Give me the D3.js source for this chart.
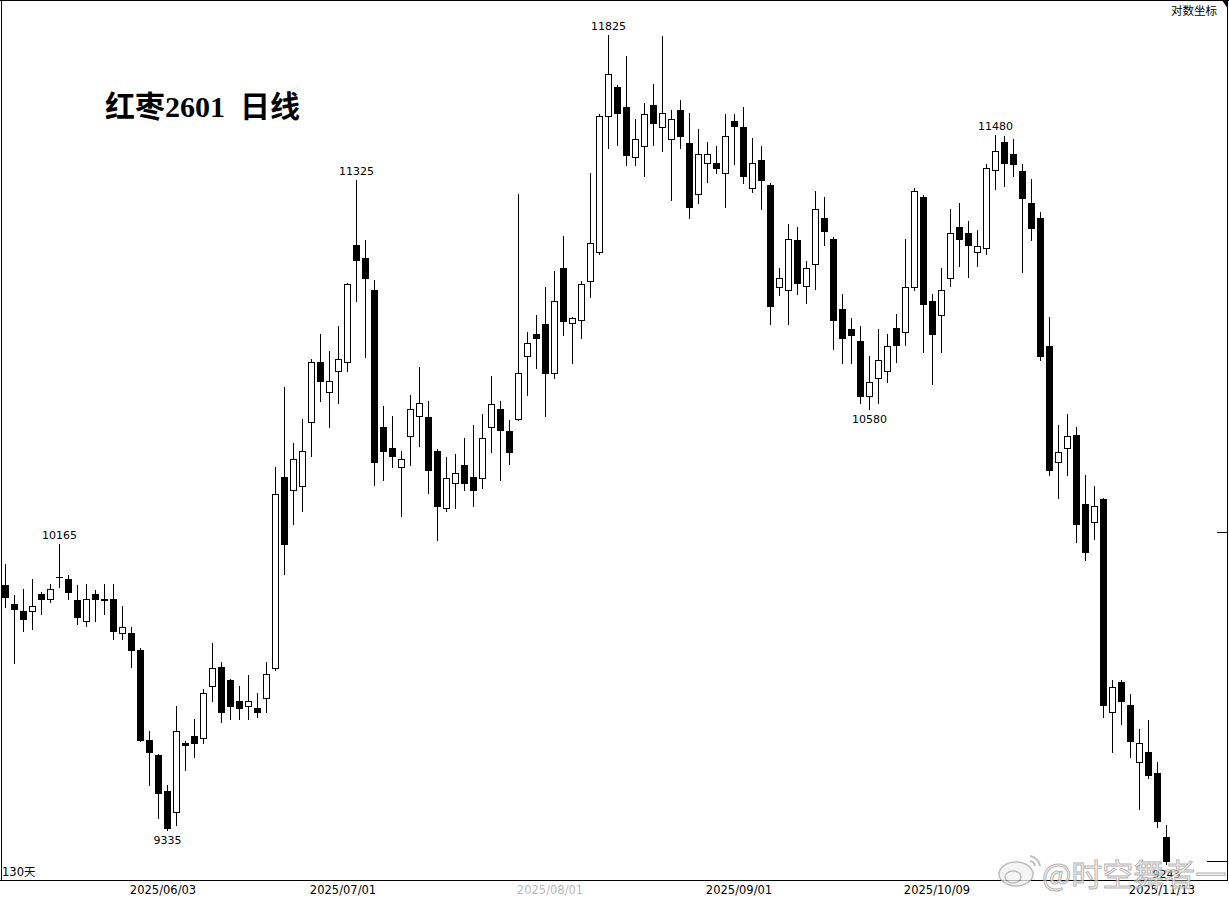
<!DOCTYPE html>
<html><head><meta charset="utf-8">
<script src="https://cdn.jsdelivr.net/npm/d3@7"></script>
<style>html,body{margin:0;padding:0;background:#fff;overflow:hidden}</style>
</head><body>
<svg id="chart" width="1229" height="898"></svg>
<script>
// ---- data ----
const dates = [
"2025/05/07","2025/05/08","2025/05/09","2025/05/12","2025/05/13","2025/05/14","2025/05/15","2025/05/16","2025/05/19","2025/05/20",
"2025/05/21","2025/05/22","2025/05/23","2025/05/26","2025/05/27","2025/05/28","2025/05/29","2025/05/30",
"2025/06/03","2025/06/04","2025/06/05","2025/06/06","2025/06/09","2025/06/10","2025/06/11","2025/06/12","2025/06/13",
"2025/06/16","2025/06/17","2025/06/18","2025/06/19","2025/06/20","2025/06/23","2025/06/24","2025/06/25","2025/06/26","2025/06/27","2025/06/30",
"2025/07/01","2025/07/02","2025/07/03","2025/07/04","2025/07/07","2025/07/08","2025/07/09","2025/07/10","2025/07/11",
"2025/07/14","2025/07/15","2025/07/16","2025/07/17","2025/07/18","2025/07/21","2025/07/22","2025/07/23","2025/07/24","2025/07/25",
"2025/07/28","2025/07/29","2025/07/30","2025/07/31",
"2025/08/01","2025/08/04","2025/08/05","2025/08/06","2025/08/07","2025/08/08","2025/08/11","2025/08/12","2025/08/13","2025/08/14","2025/08/15",
"2025/08/18","2025/08/19","2025/08/20","2025/08/21","2025/08/22","2025/08/25","2025/08/26","2025/08/27","2025/08/28","2025/08/29",
"2025/09/01","2025/09/02","2025/09/03","2025/09/04","2025/09/05","2025/09/08","2025/09/09","2025/09/10","2025/09/11","2025/09/12",
"2025/09/15","2025/09/16","2025/09/17","2025/09/18","2025/09/19","2025/09/22","2025/09/23","2025/09/24","2025/09/25","2025/09/26",
"2025/09/29","2025/09/30",
"2025/10/09","2025/10/10","2025/10/13","2025/10/14","2025/10/15","2025/10/16","2025/10/17","2025/10/20","2025/10/21","2025/10/22",
"2025/10/23","2025/10/24","2025/10/27","2025/10/28","2025/10/29","2025/10/30","2025/10/31",
"2025/11/03","2025/11/04","2025/11/05","2025/11/06","2025/11/07","2025/11/10","2025/11/11","2025/11/12","2025/11/13"
];
const opens = [
10040,9985,9965,9965,10015,10000,10065,10060,9995,9935,10015,9995,10000,9900,9900,9850,9590,9545,9445,9385,
9580,9600,9595,9745,9800,9760,9700,9685,9680,9710,9795,10370,10330,10340,10540,10730,10635,10700,10730,11110,
11065,10960,10525,10460,10400,10495,10560,10555,10450,10275,10350,10405,10370,10365,10525,10580,10510,10550,10750,10820,
10850,10695,11035,10855,10865,10990,11085,11545,11645,11575,11405,11440,11580,11505,11465,11565,11450,11280,11385,11385,
11350,11525,11505,11300,11395,11310,10970,10960,11125,10975,11045,11200,11130,10900,10835,10795,10620,10680,10700,10840,
10825,10970,11270,10925,10880,11000,11170,11150,11085,11100,11360,11455,11415,11355,11250,11200,10780,10415,10460,10500,
10285,10230,10300,9670,9755,9690,9525,9555,9495,9315
];
const highs = [
10105,10010,10030,10060,10020,10045,10165,10070,10040,10045,10025,10045,10045,9980,9915,9855,9615,9550,9460,9685,
9585,9650,9735,9870,9815,9765,9745,9775,9725,9815,10400,10650,10475,10550,10740,10820,10765,10845,10985,11325,
11125,10995,10590,10560,10450,10625,10715,10605,10455,10430,10440,10490,10530,10565,10685,10605,10545,11280,10825,10880,
10970,11025,11140,10875,10990,11350,11550,11825,11650,11750,11535,11590,11655,11820,11565,11600,11555,11500,11455,11440,
11550,11550,11575,11470,11440,11315,11035,11180,11170,11055,11290,11270,11135,10950,10870,10845,10750,10835,10820,10885,
11130,11300,11275,10950,11035,11230,11250,11190,11160,11380,11480,11475,11465,11380,11330,11220,10875,10530,10565,10525,
10375,10340,10305,9760,9760,9720,9620,9645,9525,9350
];
const lows = [
9975,9810,9905,9910,9955,9990,10035,10000,9925,9920,9935,9955,9880,9880,9800,9585,9460,9370,9335,9350,
9505,9540,9580,9700,9640,9650,9650,9650,9655,9670,9790,10075,10225,10265,10435,10605,10525,10600,10700,10925,
10745,10345,10360,10400,10250,10405,10465,10320,10175,10265,10275,10330,10280,10335,10445,10360,10410,10545,10625,10710,
10560,10680,10815,10725,10805,10940,11080,11435,11445,11375,11375,11340,11445,11425,11260,11435,11200,11250,11320,11350,
11235,11380,11315,11285,11230,10850,10945,10850,10950,10920,10965,11110,10770,10725,10725,10600,10580,10600,10665,10730,
10785,10960,10760,10660,10760,10975,11040,11005,11040,11080,11295,11305,11340,11020,11125,10735,10375,10305,10375,10170,
10115,10180,9655,9555,9635,9540,9395,9480,9345,9243
];
const closes = [
10005,9970,9940,9980,10000,10030,10065,10020,9945,10000,10000,10000,9905,9915,9850,9590,9555,9440,9340,9615,
9575,9580,9725,9795,9670,9685,9680,9700,9670,9780,10315,10165,10425,10450,10730,10670,10670,10740,10980,11060,
11000,10415,10450,10435,10425,10580,10600,10390,10280,10365,10380,10350,10330,10490,10595,10515,10445,10695,10790,10805,
10695,10925,10860,10870,10980,11115,11545,11690,11555,11410,11465,11550,11520,11555,11535,11475,11235,11415,11415,11365,
11475,11510,11340,11385,11325,10910,11000,11130,10985,11035,11230,11155,10865,10805,10815,10620,10665,10735,10780,10785,
10970,11290,10915,10820,10960,11150,11130,11110,11105,11365,11425,11385,11380,11265,11165,10750,10390,10445,10495,10225,
10140,10280,9690,9740,9700,9585,9580,9490,9360,9250
];
const tickDates = ["2025/06/03","2025/07/01","2025/08/01","2025/09/01","2025/10/09","2025/11/13"];
const markDates = ["2025/05/15","2025/06/03","2025/07/02","2025/08/11","2025/09/19","2025/10/17","2025/11/13"];
const markSides = ["high","low","high","high","low","high","low"];
const titleText = "红枣2601  日线";
const scaleLabel = "对数坐标";
const periodLabel = "130天";
const watermark = "@时空舞者一";

// ---- chart ----
const svg = d3.select("#chart");
const W = 1229, H = 898;
svg.append("rect").attr("width", W).attr("height", H).attr("fill", "#fff");

const data = dates.map((d, i) => ({date: d, o: opens[i], h: highs[i], l: lows[i], c: closes[i]}));
const x = d3.scalePoint().domain(dates).range([5, 1166]);
const y = d3.scaleLog().domain([9335, 11825]).range([830.2, 35]);

const g = svg.append("g");
data.forEach(d => {
  const cx = Math.round(x(d.date));
  const yh = Math.round(y(d.h)), yl = Math.round(y(d.l));
  const yo = Math.round(y(d.o)), yc = Math.round(y(d.c));
  const top = Math.min(yo, yc), bot = Math.max(yo, yc);
  if (d.c > d.o) {
    if (yh < top) g.append("line").attr("x1", cx + 0.5).attr("x2", cx + 0.5).attr("y1", yh).attr("y2", top).attr("stroke", "#000");
    if (yl > bot) g.append("line").attr("x1", cx + 0.5).attr("x2", cx + 0.5).attr("y1", bot).attr("y2", yl + 1).attr("stroke", "#000");
    g.append("rect").attr("x", cx - 2.5).attr("y", top + 0.5).attr("width", 6).attr("height", Math.max(1, bot - top))
      .attr("fill", "#fff").attr("stroke", "#000").attr("stroke-width", 1);
  } else if (d.c < d.o) {
    g.append("line").attr("x1", cx + 0.5).attr("x2", cx + 0.5).attr("y1", yh).attr("y2", yl + 1).attr("stroke", "#000");
    g.append("rect").attr("x", cx - 3).attr("y", top).attr("width", 7).attr("height", Math.max(2, bot - top + 1))
      .attr("fill", "#000").attr("shape-rendering", "crispEdges");
  } else {
    g.append("line").attr("x1", cx + 0.5).attr("x2", cx + 0.5).attr("y1", yh).attr("y2", yl + 1).attr("stroke", "#000");
    g.append("line").attr("x1", cx - 3).attr("x2", cx + 4).attr("y1", top + 0.5).attr("y2", top + 0.5).attr("stroke", "#000");
  }
});

// high/low annotations
markDates.forEach((md, k) => {
  const d = data[dates.indexOf(md)];
  const side = markSides[k];
  const val = side === "high" ? d.h : d.l;
  svg.append("text")
    .attr("x", x(md) + 0.5)
    .attr("y", side === "high" ? y(val) - 5 : y(val) + 14)
    .attr("text-anchor", "middle")
    .attr("font-family", "'DejaVu Sans', Verdana, sans-serif")
    .attr("font-size", 11)
    .attr("fill", "#000")
    .text(val);
});

// frame
const frame = svg.append("g").attr("stroke", "#000").attr("stroke-width", 1).attr("shape-rendering", "crispEdges");
frame.append("line").attr("x1", 0).attr("x2", W).attr("y1", 0.5).attr("y2", 0.5);
frame.append("line").attr("x1", 1.5).attr("x2", 1.5).attr("y1", 0).attr("y2", 881);
frame.append("line").attr("x1", 1227.5).attr("x2", 1227.5).attr("y1", 0).attr("y2", 881);
frame.append("line").attr("x1", 0).attr("x2", 1228).attr("y1", 880.5).attr("y2", 880.5);
frame.append("line").attr("x1", 1217).attr("x2", 1227).attr("y1", Math.round(y(10200)) + 0.5).attr("y2", Math.round(y(10200)) + 0.5);
frame.append("line").attr("x1", 1207).attr("x2", 1227).attr("y1", Math.round(y(closes[closes.length - 1])) + 0.5).attr("y2", Math.round(y(closes[closes.length - 1])) + 0.5);
svg.append("path").attr("d", "M1222,0 L1228,0 L1228,9 Z").attr("fill", "#000");

// bottom date axis
const axis = d3.axisBottom(x).tickValues(tickDates).tickSize(0).tickPadding(0);
const ax = svg.append("g").attr("transform", "translate(0,880)").call(axis);
ax.select(".domain").remove();
ax.selectAll("text")
  .attr("dx", -4.5).attr("y", 14).attr("dy", "0")
  .attr("font-family", "'DejaVu Sans', Verdana, sans-serif")
  .attr("font-size", 11.5)
  .attr("fill", d => d === "2025/08/01" ? "#b8b8b8" : "#000");

// texts
svg.append("text").attr("x", 105).attr("y", 117)
  .attr("font-family", "'Liberation Serif', 'Noto Sans CJK SC', serif")
  .attr("font-size", 30).attr("font-weight", "bold").attr("fill", "#000")
  .attr("xml:space", "preserve").style("white-space", "pre")
  .text(titleText);
svg.append("text").attr("x", 1217).attr("y", 15).attr("text-anchor", "end")
  .attr("font-family", "'Noto Sans CJK SC', sans-serif").attr("font-size", 11.5).attr("fill", "#000")
  .text(scaleLabel);
svg.append("text").attr("x", 2).attr("y", 876)
  .attr("font-family", "'DejaVu Sans', 'Noto Sans CJK SC', sans-serif").attr("font-size", 11.5).attr("fill", "#000")
  .text(periodLabel);

// watermark
const wm = svg.append("g").attr("opacity", 0.75);
wm.append("ellipse").attr("cx", 1016).attr("cy", 874).attr("rx", 17).attr("ry", 12)
  .attr("fill", "#f2f2f2").attr("stroke", "#a8a8a8").attr("stroke-width", 1.5);
wm.append("ellipse").attr("cx", 1013).attr("cy", 877).attr("rx", 8).attr("ry", 6)
  .attr("fill", "none").attr("stroke", "#a8a8a8").attr("stroke-width", 1.5);
wm.append("path").attr("d", "M1030,856 A12,12 0 0 1 1040,866 M1030,861 A6,6 0 0 1 1035,866")
  .attr("fill", "none").attr("stroke", "#a8a8a8").attr("stroke-width", 2);
wm.append("text").attr("x", 1042).attr("y", 886)
  .attr("font-family", "'Noto Sans CJK SC', sans-serif").attr("font-size", 31)
  .attr("fill", "#f0f0f0").attr("stroke", "#a0a0a0").attr("stroke-width", 1)
  .text(watermark);
</script>
</body></html>
